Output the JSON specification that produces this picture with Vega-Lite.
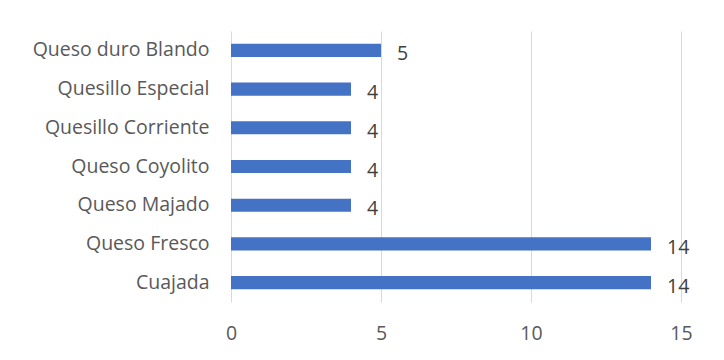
{
  "$schema": "https://vega.github.io/schema/vega-lite/v6.json",
  "autosize": {"type": "none"},
  "width": 450,
  "height": 271,
  "padding": {"left": 231, "top": 31, "right": 43, "bottom": 58},
  "background": "white",
  "config": {"view": {"stroke": null}, "font": "Open Sans"},
  "data": {"values": [
    {"cat": "Queso duro Blando", "v": 5},
    {"cat": "Quesillo Especial", "v": 4},
    {"cat": "Quesillo Corriente", "v": 4},
    {"cat": "Queso Coyolito", "v": 4},
    {"cat": "Queso Majado", "v": 4},
    {"cat": "Queso Fresco", "v": 14},
    {"cat": "Cuajada", "v": 14}
  ]},
  "encoding": {
    "y": {"field": "cat", "type": "nominal", "sort": null,
      "scale": {"paddingInner": 0.66, "paddingOuter": 0.33},
      "axis": {"title": null, "domain": false, "ticks": false, "labelPadding": 22, "labelFont": "Open Sans", "labelFontSize": 19.5, "labelColor": "#595959"}},
    "x": {"field": "v", "type": "quantitative",
      "scale": {"domain": [0, 15], "nice": false},
      "axis": {"title": null, "values": [0, 5, 10, 15], "domain": false, "ticks": false, "labelFlush": false, "labelPadding": 22, "labelFont": "Open Sans", "labelFontSize": 19.5, "labelColor": "#595959", "gridColor": "#d9d9d9", "gridWidth": 1}}
  },
  "layer": [
    {"mark": {"type": "bar", "color": "#4472C4"}},
    {"mark": {"type": "text", "align": "left", "dx": 16, "dy": 4, "fontSize": 19.5, "font": "Open Sans", "color": "#404040"},
     "encoding": {"text": {"field": "v", "type": "quantitative"}}}
  ]
}
